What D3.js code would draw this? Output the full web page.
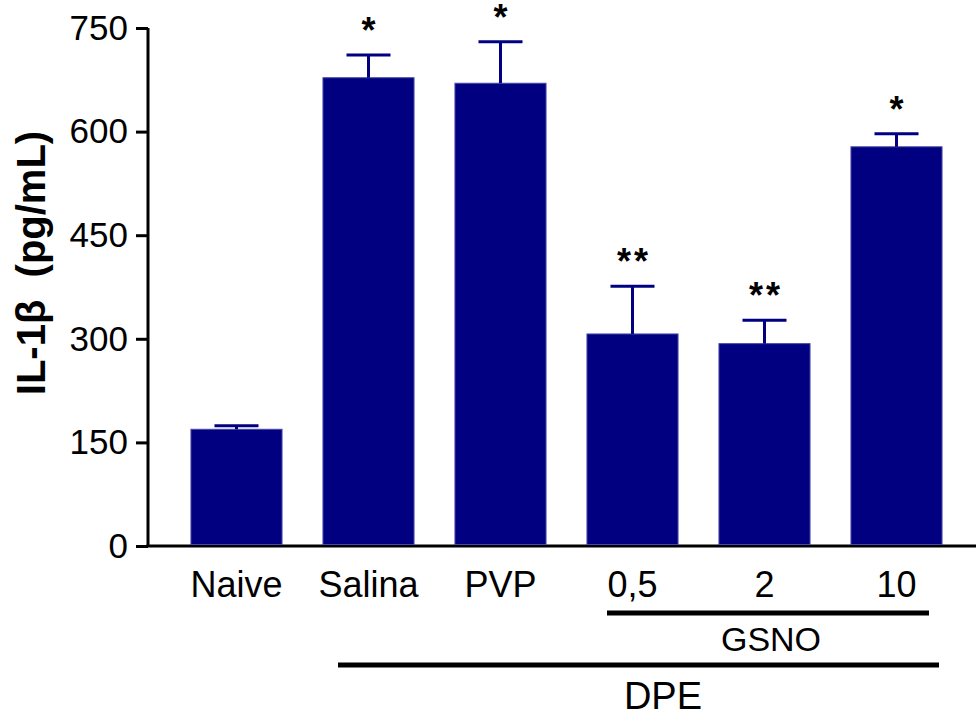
<!DOCTYPE html>
<html>
<head>
<meta charset="utf-8">
<script src="https://cdn.jsdelivr.net/npm/d3@7"></script>
<style>
  body { margin: 0; background: #fff; }
  svg { display: block; font-family: "Liberation Sans", Arial, sans-serif; }
</style>
</head>
<body>
<svg width="976" height="715"></svg>
<script>
// values
var groups = ["Naive", "Salina", "PVP", "0,5", "2", "10"];
var means = [169, 678, 670, 307, 293, 578];
var sems = [5, 33, 60, 69, 34, 19];
var marks = ["", "*", "*", "**", "**", "*"];
var yTicks = [0, 150, 300, 450, 600, 750];

var svg = d3.select("svg"),
    navy = "#000080";

var y = d3.scaleLinear().domain([0, 750]).range([546, 28]);
var x = d3.scaleBand().domain(groups)
    .range([170.5, 962.5])
    .paddingInner(0.31)
    .paddingOuter(0.155);

// axes
var yAxis = svg.append("g")
    .attr("transform", "translate(148,0)")
    .call(d3.axisLeft(y).tickValues(yTicks).tickSize(12).tickPadding(8).tickFormat(d3.format("d")));
yAxis.select(".domain").attr("d", "M0," + y(750) + "V" + y(0)).attr("stroke-width", 3);
yAxis.selectAll(".tick line").attr("stroke-width", 3);
yAxis.selectAll(".tick text").attr("font-size", 35).attr("fill", "#000")
    .attr("font-family", "Liberation Sans, Arial, sans-serif");

svg.append("line")
    .attr("x1", 146.5).attr("x2", 976)
    .attr("y1", y(0)).attr("y2", y(0))
    .attr("stroke", "#000").attr("stroke-width", 3);

// bars
svg.selectAll(".bar")
    .data(groups)
    .enter().append("rect")
    .attr("class", "bar")
    .attr("x", function(d) { return x(d); })
    .attr("width", x.bandwidth())
    .attr("y", function(d, i) { return y(means[i]); })
    .attr("height", function(d, i) { return y(0) - y(means[i]) - 1.5; })
    .attr("fill", navy)
    .attr("stroke", "#4848a8")
    .attr("stroke-width", 1);

// upper error bars
var err = svg.selectAll(".err")
    .data(groups)
    .enter().append("g")
    .attr("class", "err")
    .attr("stroke", navy)
    .attr("stroke-width", 3);

err.append("line")
    .attr("x1", function(d) { return x(d) + x.bandwidth() / 2; })
    .attr("x2", function(d) { return x(d) + x.bandwidth() / 2; })
    .attr("y1", function(d, i) { return y(means[i]); })
    .attr("y2", function(d, i) { return y(means[i] + sems[i]); });

err.append("line")
    .attr("x1", function(d) { return x(d) + x.bandwidth() / 2 - 22; })
    .attr("x2", function(d) { return x(d) + x.bandwidth() / 2 + 22; })
    .attr("y1", function(d, i) { return y(means[i] + sems[i]); })
    .attr("y2", function(d, i) { return y(means[i] + sems[i]); });

// significance stars
svg.selectAll(".star")
    .data(groups)
    .enter().append("text")
    .attr("class", "star")
    .attr("x", function(d) { return x(d) + x.bandwidth() / 2 + 1.5; })
    .attr("y", function(d, i) { return y(means[i] + sems[i]) - 12; })
    .attr("text-anchor", "middle")
    .attr("font-size", 36)
    .attr("font-weight", "bold")
    .attr("letter-spacing", 3)
    .text(function(d, i) { return marks[i]; });

// category labels
svg.selectAll(".cat")
    .data(groups)
    .enter().append("text")
    .attr("class", "cat")
    .attr("x", function(d) { return x(d) + x.bandwidth() / 2; })
    .attr("y", 597)
    .attr("text-anchor", "middle")
    .attr("font-size", 36)
    .text(function(d) { return d; });

// group brackets
svg.append("line")
    .attr("x1", 607).attr("x2", 929)
    .attr("y1", 613).attr("y2", 613)
    .attr("stroke", "#000").attr("stroke-width", 5);
svg.append("text")
    .attr("x", 771).attr("y", 651)
    .attr("text-anchor", "middle")
    .attr("font-size", 34)
    .text("GSNO");

svg.append("line")
    .attr("x1", 338).attr("x2", 939)
    .attr("y1", 665).attr("y2", 665)
    .attr("stroke", "#000").attr("stroke-width", 5);
svg.append("text")
    .attr("x", 663).attr("y", 709)
    .attr("text-anchor", "middle")
    .attr("font-size", 38)
    .text("DPE");

// y title
svg.append("text")
    .attr("transform", "translate(45,263) rotate(-90)")
    .attr("text-anchor", "middle")
    .attr("font-size", 40)
    .attr("font-weight", "bold")
    .attr("xml:space", "preserve")
    .text("IL-1\u03b2  (pg/mL)");
</script>
</body>
</html>
